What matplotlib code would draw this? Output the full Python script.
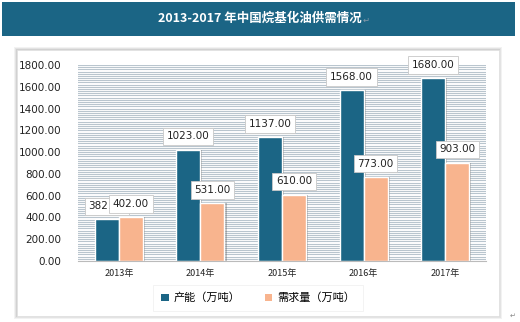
import matplotlib
matplotlib.use("Agg")
import matplotlib.pyplot as plt
from matplotlib.patches import Rectangle, Patch
import numpy as np

plt.rcParams['font.family'] = ['Noto Sans CJK SC', 'DejaVu Sans']

title = "2013-2017 年中国烷基化油供需情况"
categories = ["2013年", "2014年", "2015年", "2016年", "2017年"]
capacity = [382.0, 1023.0, 1137.0, 1568.0, 1680.0]
demand = [402.0, 531.0, 610.0, 773.0, 903.0]
series_names = ["产能（万吨）", "需求量（万吨）"]
yticks = [0, 200, 400, 600, 800, 1000, 1200, 1400, 1600, 1800]

W, H = 520, 322
fig = plt.figure(figsize=(W / 100, H / 100), dpi=100)
fig.patch.set_facecolor("white")

dark = "#1B6585"
light = "#F8B48E"

def fx(px):
    return px / W

def fy(py):
    return 1 - py / H

# title banner
fig.patches.append(Rectangle((fx(2), fy(36)), fx(513), 34 / H, transform=fig.transFigure,
                             facecolor=dark, edgecolor="none", zorder=-5))
fig.text(fx(260), fy(18), title, color="white", fontsize=9, fontweight="bold",
         ha="center", va="center")
fig.text(fx(363), fy(20), "↵", color="#8899AA", fontsize=6, ha="left", va="center",
         family=["DejaVu Sans"])
fig.text(fx(510), fy(316), "↵", color="#888888", fontsize=5, ha="left", va="center",
         family=["DejaVu Sans"])

# panel shadow and panel
for i, a in enumerate([0.05, 0.06, 0.08]):
    d = 3 - i
    fig.patches.append(Rectangle((fx(17 - d), fy(316 + d)), fx(482 + 2 * d), (266 + 2 * d) / H,
                                 transform=fig.transFigure, facecolor="#000000", alpha=a,
                                 edgecolor="none", zorder=-5))
fig.patches.append(Rectangle((fx(17), fy(316)), fx(482), 266 / H, transform=fig.transFigure,
                             facecolor="white", edgecolor="#E0E0E0", linewidth=0.5, zorder=-4))

ax = fig.add_axes([fx(78), fy(261), fx(486 - 78), (261 - 65) / H])
ax.set_zorder(2)
ax.patch.set_alpha(0)
ax.set_xlim(-0.5, len(categories) - 0.5)
ax.set_ylim(0, 1800)

# dense striped background
for yv in np.arange(20, 1800.1, 20):
    ax.axhline(yv, color="#B9C5CE", linewidth=0.8, zorder=0)

x = np.arange(len(categories))
bw = 0.295
for xs, vals, col in [(x - bw / 2, capacity, dark), (x + bw / 2, demand, light)]:
    ax.bar(xs + 0.025, vals, width=bw, color="#555555", alpha=0.35, zorder=1, linewidth=0)
    ax.bar(xs, vals, width=bw, color=col, edgecolor="white", linewidth=1.0, zorder=2)

def label(xc, v, z):
    ax.annotate(f"{v:.2f}", (xc, v), xytext=(0, 9.5), textcoords="offset points",
                ha="center", va="center", fontsize=7.5, color="#222222", zorder=z,
                family=["DejaVu Sans"],
                bbox=dict(boxstyle="square,pad=0.35", facecolor="white",
                          edgecolor="#C8C8C8", linewidth=0.6))

for i in range(len(categories)):
    label(x[i] - bw / 2, capacity[i], 5)
for i in range(len(categories)):
    label(x[i] + bw / 2, demand[i], 6)

ax.set_yticks(yticks)
ax.set_yticklabels([f"{v:.2f}" for v in yticks], fontsize=7.5, color="#222222",
                   family=["DejaVu Sans"])
ax.set_xticks(x)
ax.set_xticklabels(categories, fontsize=6.5, color="#222222")
ax.tick_params(axis="both", length=0)
ax.tick_params(axis="y", pad=12)
ax.tick_params(axis="x", pad=6)
for s in ["top", "right", "left"]:
    ax.spines[s].set_visible(False)
ax.spines["bottom"].set_color("#BBBBBB")
ax.spines["bottom"].set_linewidth(0.8)

# legend
handles = [Patch(facecolor=dark, edgecolor="none"), Patch(facecolor=light, edgecolor="none")]
leg = fig.legend(handles, series_names, loc="center", bbox_to_anchor=(fx(258), fy(298)),
                 ncol=2, frameon=True, fontsize=8, handlelength=0.7, handleheight=0.7,
                 handletextpad=0.4, columnspacing=2.2, borderpad=0.7, fancybox=False)
leg.get_frame().set_edgecolor("#EEEEEE")
leg.get_frame().set_linewidth(0.6)
leg.set_zorder(10)

fig.savefig("out.png", dpi=100, facecolor="white")
